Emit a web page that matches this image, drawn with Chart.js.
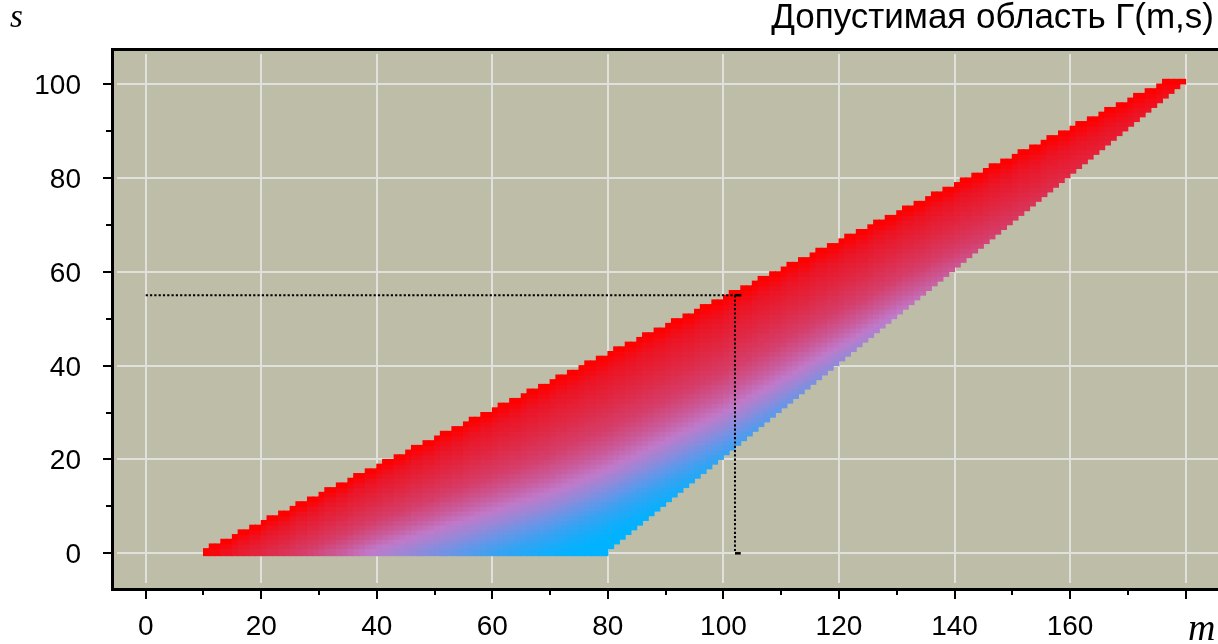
<!DOCTYPE html>
<html><head><meta charset="utf-8">
<script src="https://cdn.jsdelivr.net/npm/chart.js@4"></script>
<style>html,body{margin:0;padding:0;background:#fff;}#wrap{width:1218px;height:644px;}</style>
</head><body><div id="wrap"><canvas id="c" width="1218" height="644"></canvas></div>
<script>
// ---------------- data ----------------
const columnM = [
 10,11,12,13,14,15,16,17,18,19, 20,21,22,23,24,25,26,27,28,29,
 30,31,32,33,34,35,36,37,38,39, 40,41,42,43,44,45,46,47,48,49,
 50,51,52,53,54,55,56,57,58,59, 60,61,62,63,64,65,66,67,68,69,
 70,71,72,73,74,75,76,77,78,79, 80,81,82,83,84,85,86,87,88,89,
 90,91,92,93,94,95,96,97,98,99, 100,101,102,103,104,105,106,107,108,109,
 110,111,112,113,114,115,116,117,118,119, 120,121,122,123,124,125,126,127,128,129,
 130,131,132,133,134,135,136,137,138,139, 140,141,142,143,144,145,146,147,148,149,
 150,151,152,153,154,155,156,157,158,159, 160,161,162,163,164,165,166,167,168,169,
 170,171,172,173,174,175,176,177,178,179
];
// highest admissible s in each column
const topS = [
 0,1,1,2,2, 3,4,4,5,5, 6,7,7,8,8, 9,10,10,11,11,
 12,13,13,14,14, 15,16,16,17,17, 18,19,19,20,20, 21,22,22,23,23,
 24,25,25,26,26, 27,28,28,29,29, 30,31,31,32,32, 33,34,34,35,35,
 36,37,37,38,38, 39,40,40,41,41, 42,43,43,44,44, 45,46,46,47,47,
 48,49,49,50,50, 51,52,52,53,53, 54,55,55,56,56, 57,58,58,59,59,
 60,61,61,62,62, 63,64,64,65,65, 66,67,67,68,68, 69,70,70,71,71,
 72,73,73,74,74, 75,76,76,77,77, 78,79,79,80,80, 81,82,82,83,83,
 84,85,85,86,86, 87,88,88,89,89, 90,91,91,92,92, 93,94,94,95,95,
 96,97,97,98,98, 99,100,100,100,100
];
// lowest admissible s in each column
const bottomS = [
 0,0,0,0,0,0,0,0,0,0, 0,0,0,0,0,0,0,0,0,0,
 0,0,0,0,0,0,0,0,0,0, 0,0,0,0,0,0,0,0,0,0,
 0,0,0,0,0,0,0,0,0,0, 0,0,0,0,0,0,0,0,0,0,
 0,0,0,0,0,0,0,0,0,0, 1,2,3,4,5,6,7,8,9,10,
 11,12,13,14,15,16,17,18,19,20, 21,22,23,24,25,26,27,28,29,30,
 31,32,33,34,35,36,37,38,39,40, 41,42,43,44,45,46,47,48,49,50,
 51,52,53,54,55,56,57,58,59,60, 61,62,63,64,65,66,67,68,69,70,
 71,72,73,74,75,76,77,78,79,80, 81,82,83,84,85,86,87,88,89,90,
 91,92,93,94,95,96,97,98,99,100
];
// where the pink/violet middle band of the colouring lies (s at a given m)
const bandM = [10,20,30,40,50,60,70,80,90,100,110,120,130,140,150,160,170,180];
const bandS = [-16,-9,-4,1,5,9,13,18,24,30,37,44,51,57,62,67,72,77];
// marked point
const markM = [102];
const markS = [55];
// axes
const xGridValues = [0,20,40,60,80,100,120,140,160,180];
const xTickLabels = ['0','20','40','60','80','100','120','140','160',''];
const xMinorValues = [10,30,50,70,90,110,130,150,170];
const yGridValues = [0,20,40,60,80,100];
const yTickLabels = ['0','20','40','60','80','100'];
const yMinorValues = [10,30,50,70,90];
const titleText = 'Допустимая область Г(m,s)';
const xAxisName = 'm';
const yAxisName = 's';

// ---------------- colour ramp (style) ----------------
const redRamp = [[0,[192,122,202]],[0.15,[201,92,156]],[0.35,[213,62,106]],[0.6,[224,40,68]],[0.85,[236,20,36]],[1,[255,0,0]]];
const blueRamp = [[0,[192,122,202]],[3,[150,136,216]],[6,[102,150,232]],[9,[56,162,242]],[12,[22,172,250]],[15,[0,178,255]]];
function ramp(stops, t){
  if (t <= stops[0][0]) return stops[0][1];
  for (let i = 0; i < stops.length - 1; i++) {
    const a = stops[i], b = stops[i+1];
    if (t <= b[0]) { const f = (t - a[0]) / (b[0] - a[0]); return a[1].map((c, k) => c + f * (b[1][k] - c)); }
  }
  return stops[stops.length-1][1];
}
function bandAt(m){
  for (let i = 0; i < bandM.length - 1; i++) {
    if (m <= bandM[i+1]) { const f = (m - bandM[i]) / (bandM[i+1] - bandM[i]); return bandS[i] + f * (bandS[i+1] - bandS[i]); }
  }
  return bandS[bandS.length-1];
}
function cellColor(mc, sc, topC){
  const b = bandAt(mc);
  let c;
  if (sc >= b) { c = ramp(redRamp, (sc - b) / Math.max(0.001, topC - b)); }
  else { c = ramp(blueRamp, b - sc); }
  return 'rgb(' + c.map(v => Math.round(v)).join(',') + ')';
}

const cells = [], cellColors = [];
for (let i = 0; i < columnM.length; i++) {
  const m = columnM[i];
  for (let s = bottomS[i]; s <= topS[i]; s++) {
    cells.push({x: m + 0.5, y: [s === 0 ? -0.5 : s, s + 1]});
    cellColors.push(cellColor(m + 0.5, s + 0.5, topS[i] + 0.5));
  }
}

const SANS = "'Liberation Sans', Arial, Helvetica, sans-serif";
const SERIF = "'Liberation Serif', 'Times New Roman', serif";

const framePlugin = {
  id: 'frame',
  beforeDatasetsDraw(chart){
    const {ctx, chartArea: a, scales: {x, y}} = chart;
    ctx.save();
    ctx.fillStyle = '#BEBEA8';
    ctx.fillRect(a.left, a.top, a.right - a.left, a.bottom - a.top);
    ctx.strokeStyle = '#E0E0DC';
    ctx.lineWidth = 2;
    ctx.beginPath();
    for (const v of xGridValues) { const px = Math.round(x.getPixelForValue(v)); ctx.moveTo(px, a.top + 3); ctx.lineTo(px, a.bottom - 5); }
    for (const v of yGridValues) { const py = Math.round(y.getPixelForValue(v)); ctx.moveTo(a.left + 3, py); ctx.lineTo(a.right, py); }
    ctx.stroke();
    ctx.restore();
  },
  afterDatasetsDraw(chart){
    const {ctx, chartArea: a, scales: {x, y}} = chart;
    ctx.save();
    ctx.fillStyle = '#000';
    // frame
    ctx.fillRect(a.left - 3, a.top - 3, 3, a.bottom - a.top + 6);
    ctx.fillRect(a.left - 3, a.top - 3, a.right - a.left + 3, 3);
    ctx.fillRect(a.left - 3, a.bottom, a.right - a.left + 3, 3);
    // x ticks
    for (const v of xGridValues) { const px = Math.round(x.getPixelForValue(v)); ctx.fillRect(px - 1, a.bottom + 3, 2, 8); }
    for (const v of xMinorValues) { const px = Math.round(x.getPixelForValue(v)); ctx.fillRect(px - 1, a.bottom + 3, 2, 4); }
    // y ticks
    for (const v of yGridValues) { const py = Math.round(y.getPixelForValue(v)); ctx.fillRect(a.left - 11, py - 1, 11, 2); }
    for (const v of yMinorValues) { const py = Math.round(y.getPixelForValue(v)); ctx.fillRect(a.left - 8, py - 1, 8, 2); }
    // tick labels
    ctx.font = '28px ' + SANS;
    ctx.textBaseline = 'alphabetic';
    ctx.textAlign = 'center';
    xGridValues.forEach((v, i) => { if (xTickLabels[i]) ctx.fillText(xTickLabels[i], x.getPixelForValue(v), 635); });
    ctx.textAlign = 'right';
    yGridValues.forEach((v, i) => { ctx.fillText(yTickLabels[i], 81, y.getPixelForValue(v) + 10); });
    // title
    ctx.font = '35px ' + SANS;
    ctx.textAlign = 'right';
    ctx.fillText(titleText, 1214, 28);
    // axis names
    ctx.font = 'italic 33px ' + SERIF;
    ctx.textAlign = 'left';
    ctx.fillText(yAxisName, 10, 27);
    ctx.font = 'italic 38px ' + SERIF;
    ctx.fillText(xAxisName, 1188, 640);
    ctx.restore();
  }
};

new Chart(document.getElementById('c'), {
  type: 'bar',
  data: {
    datasets: [
      {type: 'line', data: [{x: 0, y: markS[0]}, {x: markM[0], y: markS[0]}], borderColor: '#000', borderWidth: 2, borderDash: [2.2, 2.1], pointRadius: 0, fill: false, order: 0},
      {type: 'line', data: [{x: markM[0], y: markS[0]}, {x: markM[0], y: 0}], borderColor: '#000', borderWidth: 2, borderDash: [2.2, 2.1], pointRadius: 0, fill: false, order: 0},
      {type: 'line', data: [{x: markM[0], y: markS[0]}, {x: markM[0] + 1.1, y: markS[0]}], borderColor: '#000', borderWidth: 2.5, pointRadius: 0, fill: false, order: 0},
      {type: 'line', data: [{x: markM[0], y: 0}, {x: markM[0] + 1, y: 0}], borderColor: '#000', borderWidth: 2.5, pointRadius: 0, fill: false, order: 0},
      {type: 'bar', data: cells, backgroundColor: cellColors, borderWidth: 0, inflateAmount: 0.5, barPercentage: 1, categoryPercentage: 1, grouped: false, order: 1}
    ]
  },
  options: {
    responsive: false,
    animation: false,
    events: [],
    layout: {padding: {left: 114, top: 51, right: 0, bottom: 56}},
    plugins: {legend: {display: false}, tooltip: {enabled: false}, title: {display: false}},
    scales: {
      x: {type: 'linear', display: false, min: -5.487, max: 185.61, offset: false},
      y: {type: 'linear', display: false, min: -7.39, max: 107.03}
    }
  },
  plugins: [framePlugin]
});
</script>
</body></html>
